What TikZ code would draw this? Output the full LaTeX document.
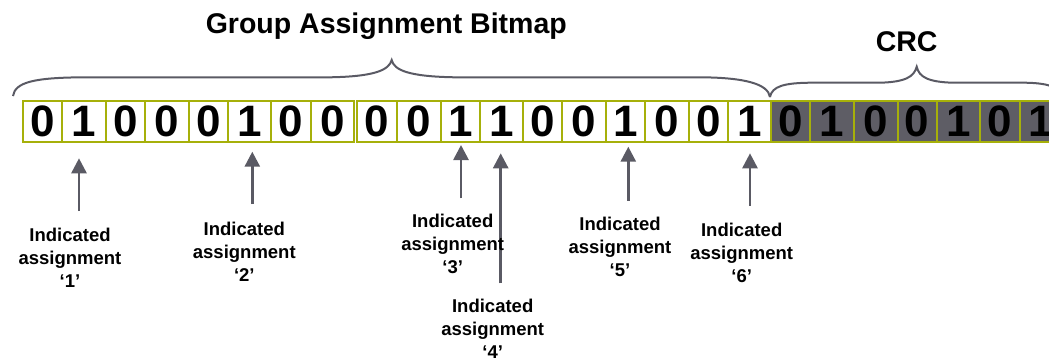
\documentclass[tikz,border=0pt]{standalone}
\usepackage{fontspec}
\setmainfont{Liberation Sans}
\usetikzlibrary{arrows.meta}
\definecolor{bitborder}{RGB}{166,176,10}
\definecolor{crcfill}{RGB}{94,93,101}
\definecolor{ptrgray}{RGB}{90,90,100}
\tikzset{
  bitcell/.style={draw=bitborder, line width=2pt, inner sep=0pt, minimum height=41pt,
    font=\fontsize{44}{44}\selectfont\bfseries, text=black},
  brace/.style={draw=ptrgray, line width=2pt},
  ptr/.style={draw=ptrgray, line width=2.7pt, -{Triangle[width=15pt,length=15pt]}},
  lbl/.style={anchor=base, inner sep=0pt, font=\fontsize{18.5}{23}\selectfont\bfseries},
  heading/.style={anchor=base, inner sep=0pt, font=\fontsize{28.5}{30}\selectfont\bfseries}
}
\newcommand{\lbltext}[1]{\begin{tabular}[t]{@{}c@{}}Indicated\\assignment\\‘#1’\end{tabular}}
\begin{document}
\begin{tikzpicture}[x=1pt,y=-1pt]
\useasboundingbox (0,0) rectangle (1049,357);
\clip (0,0) rectangle (1049,357);

% cells
\foreach \l/\r/\d/\f [count=\i] in {
  22.7/62.3/0/white, 62.3/105.7/1/white, 105.7/145/0/white, 145/189/0/white,
  189/228.3/0/white, 228.3/271/1/white, 271/311/0/white, 311/354.3/0/white,
  356.7/396.7/0/white, 396.7/440.7/0/white, 440.7/480/1/white, 480/522.7/1/white,
  522.7/562.3/0/white, 562.3/606/0/white, 606/645/1/white, 645/689/0/white,
  689/728.3/0/white, 728.3/770.7/1/white,
  770.7/810/0/crcfill, 810/854/1/crcfill, 854/897.7/0/crcfill, 897.7/936.7/0/crcfill,
  936.7/980/1/crcfill, 980/1020/0/crcfill, 1020/1062/1/crcfill}
{
  \node[bitcell, fill=\f, minimum width={(\r-\l)*1pt}] (c\i) at ({(\l+\r)/2},121) {\d};
}

% headings
\node[heading] (title) at (386.3,33.3) {Group Assignment Bitmap};
\node[heading] (crc) at (906.7,51.7) {CRC};

% braces
\path[brace] (13,96) .. controls (15,82) and (35,77.5) .. (85,77.3) -- (330,77.3)
  .. controls (375,76.5) and (389,70) .. (391.7,60)
  .. controls (394,70) and (408,76.5) .. (455,77.3) -- (700,77.3)
  .. controls (745,77.5) and (768,84) .. (770,97);
\path[brace] (770,97) .. controls (772,86) and (785,83) .. (810,82.7) -- (880,82.7)
  .. controls (905,82) and (914,77) .. (916.7,66.7)
  .. controls (919,77) and (928,82) .. (953,82.7) -- (1025,82.7)
  .. controls (1045,83) and (1060,86) .. (1062,97);

% pointers
\coordinate (t1) at (79,211);    \coordinate (h1) at (79,158.3);
\coordinate (t2) at (252.3,204); \coordinate (h2) at (252.3,151.7);
\coordinate (t3) at (461,198.3); \coordinate (h3) at (461,145);
\coordinate (t4) at (500.7,283.3); \coordinate (h4) at (500.7,153.3);
\coordinate (t5) at (628.3,200.7); \coordinate (h5) at (628.3,146.7);
\coordinate (t6) at (750,205.7); \coordinate (h6) at (750,153.3);
\foreach \k in {1,...,6} { \draw[ptr] (t\k) -- (h\k); }

% labels
\node[lbl] (l1) at (70,241.7) {\lbltext{1}};
\node[lbl] (l2) at (244.3,235) {\lbltext{2}};
\node[lbl] (l3) at (452.7,227.3) {\lbltext{3}};
\node[lbl] (l4) at (492.7,312.7) {\lbltext{4}};
\node[lbl] (l5) at (620,230.7) {\lbltext{5}};
\node[lbl] (l6) at (741.7,236) {\lbltext{6}};
\end{tikzpicture}
\end{document}
